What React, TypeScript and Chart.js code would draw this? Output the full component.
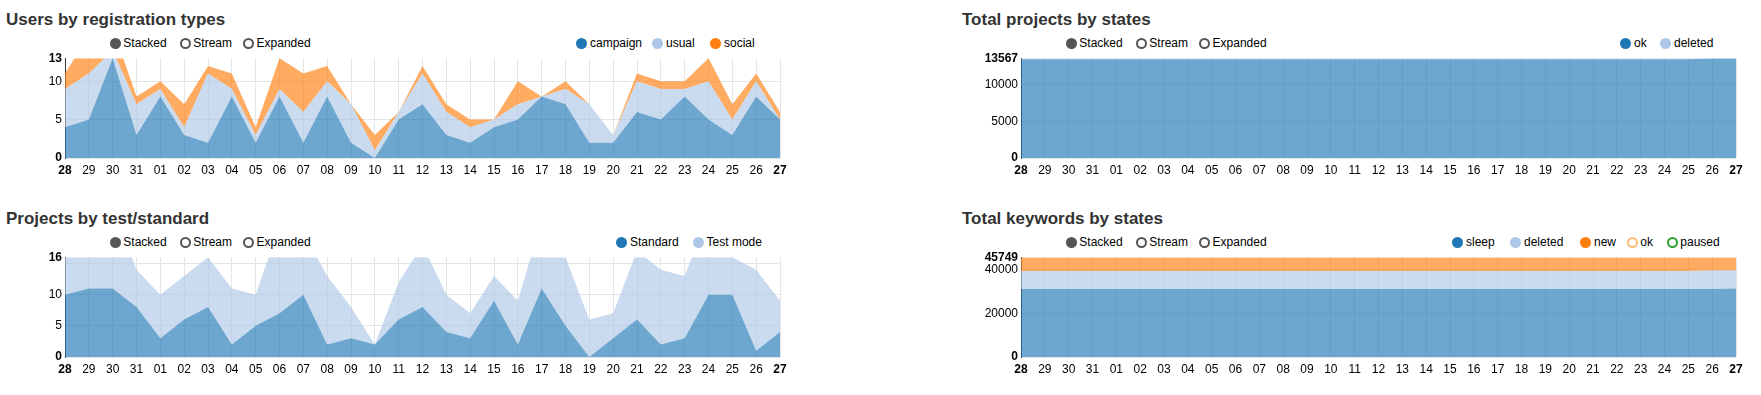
import React, { useEffect, useRef } from 'react';
import { Chart, registerables } from 'chart.js';

Chart.register(...registerables);

const FONT = 'Arial, "Liberation Sans", Helvetica, sans-serif';

// ---- categories ----
const days = ['28', '29', '30', '31', '01', '02', '03', '04', '05', '06', '07', '08', '09', '10', '11', '12', '13', '14', '15', '16', '17', '18', '19', '20', '21', '22', '23', '24', '25', '26', '27'];

// ---- Users by registration types ----
const campaign = [4, 5, 13, 3, 8, 3, 2, 8, 2, 8, 2, 8, 2, 0, 5, 7, 3, 2, 4, 5, 8, 7, 2, 2, 6, 5, 8, 5, 3, 8, 5];
const usual = [5, 6, 1, 4, 1, 1, 9, 1, 1, 1, 4, 2, 5, 1, 1, 4, 3, 2, 1, 2, 0, 2, 5, 1, 4, 4, 1, 5, 2, 2, 0];
const social = [2, 5, 3, 1, 1, 3, 1, 2, 1, 4, 5, 2, 0, 2, 0, 1, 1, 1, 0, 3, 0, 1, 0, 0, 1, 1, 1, 3, 2, 1, 1];
const usersTicks = [0, 5, 10, 13];

// ---- Projects by test/standard ----
const standard = [10, 11, 11, 8, 3, 6, 8, 2, 5, 7, 10, 2, 3, 2, 6, 8, 4, 3, 9, 2, 11, 5, 0, 3, 6, 2, 3, 10, 10, 1, 4];
const testMode = [8, 8, 13, 6, 7, 7, 8, 9, 5, 14, 10, 11, 5, 0, 6, 10, 6, 4, 4, 7, 11, 11, 6, 4, 11, 12, 10, 13, 6, 13, 5];
const testTicks = [0, 5, 10, 15, 16];
const testHiddenLabels = [15];

// ---- Total projects by states ----
const projOk = [13440, 13440, 13440, 13440, 13440, 13440, 13440, 13440, 13440, 13440, 13440, 13440, 13440, 13440, 13440, 13440, 13440, 13440, 13440, 13440, 13440, 13440, 13440, 13440, 13440, 13440, 13440, 13440, 13440, 13567, 13567];
const projDeleted = [127, 127, 127, 127, 127, 127, 127, 127, 127, 127, 127, 127, 127, 127, 127, 127, 127, 127, 127, 127, 127, 127, 127, 127, 127, 127, 127, 127, 127, 0, 0];
const projTicks = [0, 5000, 10000, 13567];

// ---- Total keywords by states ----
const kwSleep = [31200, 31200, 31200, 31200, 31200, 31200, 31200, 31200, 31200, 31200, 31200, 31200, 31200, 31200, 31200, 31200, 31200, 31200, 31200, 31200, 31200, 31200, 31200, 31200, 31200, 31200, 31200, 31200, 31200, 31200, 31450];
const kwDeleted = [8280, 8280, 8280, 8280, 8280, 8280, 8280, 8280, 8280, 8280, 8280, 8280, 8280, 8280, 8280, 8280, 8280, 8280, 8280, 8280, 8280, 8280, 8280, 8280, 8280, 8280, 8280, 8280, 8280, 8500, 8250];
const kwNew = [6269, 6269, 6269, 6269, 6269, 6269, 6269, 6269, 6269, 6269, 6269, 6269, 6269, 6269, 6269, 6269, 6269, 6269, 6269, 6269, 6269, 6269, 6269, 6269, 6269, 6269, 6269, 6269, 6269, 6049, 6049];
const kwTicks = [0, 20000, 40000, 45749];

// ---- colours ----
const BLUE = '#1f77b4';
const LIGHT_BLUE = '#aec7e8';
const ORANGE = '#ff7f0e';
const LIGHT_ORANGE = '#ffbb78';
const GREEN = '#2ca02c';
const CTRL = '#555555';
const AREA_ALPHA = 0.65;

type Series = { label: string; data: number[]; color: string };
type LegendItem = { text: string; cx: number; color: string; filled: boolean };

function rgba(hex: string, a: number) {
  const n = parseInt(hex.slice(1), 16);
  return `rgba(${(n >> 16) & 255},${(n >> 8) & 255},${n & 255},${a})`;
}

function makeConfig(series: Series[], ticks: number[], hidden: number[]): any {
  const max = ticks[ticks.length - 1];
  const last = days.length - 1;
  return {
    type: 'line',
    data: {
      labels: days,
      datasets: series.map((s, i) => ({
        label: s.label,
        data: s.data,
        fill: i === 0 ? 'origin' : '-1',
        backgroundColor: rgba(s.color, AREA_ALPHA),
        borderColor: 'rgba(0,0,0,0)',
        borderWidth: 0,
        pointRadius: 0,
        pointHoverRadius: 0,
        tension: 0,
      })),
    },
    options: {
      animation: false,
      responsive: false,
      maintainAspectRatio: false,
      events: [],
      layout: { padding: { top: 10, right: 20, left: 0, bottom: 0 } },
      plugins: {
        legend: { display: false },
        tooltip: { enabled: false },
        title: { display: false },
      },
      scales: {
        x: {
          type: 'category',
          offset: false,
          grid: { color: '#e5e5e5', drawTicks: false, offset: false },
          border: { display: false },
          ticks: {
            autoSkip: false,
            maxRotation: 0,
            minRotation: 0,
            padding: 5,
            color: '#000',
            font: (c: any) => ({ family: FONT, size: 12, weight: c.index === 0 || c.index === last ? 'bold' : 'normal' }),
          },
          afterFit: (s: any) => {
            s.height = 22;
          },
        },
        y: {
          type: 'linear',
          stacked: true,
          min: 0,
          max,
          grid: {
            drawTicks: false,
            color: (c: any) => (c.tick && c.tick.value === max ? 'rgba(0,0,0,0)' : '#e5e5e5'),
          },
          border: { display: true, color: 'rgba(0,0,0,0.75)', width: 1 },
          ticks: {
            autoSkip: false,
            padding: 3,
            color: '#000',
            font: (c: any) => ({
              family: FONT,
              size: 12,
              weight: c.tick && (c.tick.value === 0 || c.tick.value === max) ? 'bold' : 'normal',
            }),
            callback: (v: any) => (hidden.includes(Number(v)) ? '' : String(v)),
          },
          afterBuildTicks: (s: any) => {
            s.ticks = ticks.map((v) => ({ value: v }));
          },
          afterFit: (s: any) => {
            s.width = 65;
          },
        },
      },
    },
  };
}

function AreaChart({ series, ticks, hidden }: { series: Series[]; ticks: number[]; hidden: number[] }) {
  const ref = useRef<HTMLCanvasElement>(null);
  useEffect(() => {
    if (!ref.current) return;
    const chart = new Chart(ref.current, makeConfig(series, ticks, hidden));
    return () => chart.destroy();
  }, []);
  return (
    <canvas
      ref={ref}
      width={800}
      height={132}
      style={{ position: 'absolute', left: 0, top: 48, width: 800, height: 132 }}
    />
  );
}

function Dot({ item, cy }: { item: LegendItem; cy: number }) {
  return (
    <>
      <div
        style={{
          position: 'absolute',
          left: item.cx - 5.5,
          top: cy - 5.5,
          width: 11,
          height: 11,
          boxSizing: 'border-box',
          borderRadius: '50%',
          border: `2px solid ${item.color}`,
          background: item.filled ? item.color : '#fff',
        }}
      />
      <div
        style={{
          position: 'absolute',
          left: item.cx + 8.3,
          top: cy - 6.5,
          font: `12px ${FONT}`,
          lineHeight: '12px',
          color: '#000',
          whiteSpace: 'nowrap',
        }}
      >
        {item.text}
      </div>
    </>
  );
}

const controls: LegendItem[] = [
  { text: 'Stacked', cx: 115, color: CTRL, filled: true },
  { text: 'Stream', cx: 185, color: CTRL, filled: false },
  { text: 'Expanded', cx: 248.3, color: CTRL, filled: false },
];

function Panel({
  ox,
  oy,
  title,
  legend,
  series,
  ticks,
  hidden,
}: {
  ox: number;
  oy: number;
  title: string;
  legend: LegendItem[];
  series: Series[];
  ticks: number[];
  hidden: number[];
}) {
  return (
    <div style={{ position: 'absolute', left: ox, top: oy, width: 805, height: 196 }}>
      <div
        style={{
          position: 'absolute',
          left: 6,
          top: 10.6,
          font: `bold 17px ${FONT}`,
          lineHeight: '17px',
          color: '#333',
          whiteSpace: 'nowrap',
        }}
      >
        {title}
      </div>
      {controls.map((c) => (
        <Dot key={c.text} item={c} cy={43.3} />
      ))}
      {legend.map((c) => (
        <Dot key={c.text} item={{ ...c, cx: c.cx - ox }} cy={43.3} />
      ))}
      <AreaChart series={series} ticks={ticks} hidden={hidden} />
    </div>
  );
}

export default function App() {
  return (
    <div style={{ position: 'absolute', left: 0, top: 0, width: 1761, height: 395, background: '#fff', overflow: 'hidden' }}>
      <Panel
        ox={0}
        oy={0}
        title="Users by registration types"
        legend={[
          { text: 'campaign', cx: 581.7, color: BLUE, filled: true },
          { text: 'usual', cx: 657.7, color: LIGHT_BLUE, filled: true },
          { text: 'social', cx: 715.7, color: ORANGE, filled: true },
        ]}
        series={[
          { label: 'campaign', data: campaign, color: BLUE },
          { label: 'usual', data: usual, color: LIGHT_BLUE },
          { label: 'social', data: social, color: ORANGE },
        ]}
        ticks={usersTicks}
        hidden={[]}
      />
      <Panel
        ox={0}
        oy={199}
        title="Projects by test/standard"
        legend={[
          { text: 'Standard', cx: 621.7, color: BLUE, filled: true },
          { text: 'Test mode', cx: 698.3, color: LIGHT_BLUE, filled: true },
        ]}
        series={[
          { label: 'Standard', data: standard, color: BLUE },
          { label: 'Test mode', data: testMode, color: LIGHT_BLUE },
        ]}
        ticks={testTicks}
        hidden={testHiddenLabels}
      />
      <Panel
        ox={956}
        oy={0}
        title="Total projects by states"
        legend={[
          { text: 'ok', cx: 1625.7, color: BLUE, filled: true },
          { text: 'deleted', cx: 1665.7, color: LIGHT_BLUE, filled: true },
        ]}
        series={[
          { label: 'ok', data: projOk, color: BLUE },
          { label: 'deleted', data: projDeleted, color: LIGHT_BLUE },
        ]}
        ticks={projTicks}
        hidden={[]}
      />
      <Panel
        ox={956}
        oy={199}
        title="Total keywords by states"
        legend={[
          { text: 'sleep', cx: 1457.7, color: BLUE, filled: true },
          { text: 'deleted', cx: 1515.7, color: LIGHT_BLUE, filled: true },
          { text: 'new', cx: 1585.7, color: ORANGE, filled: true },
          { text: 'ok', cx: 1632, color: LIGHT_ORANGE, filled: false },
          { text: 'paused', cx: 1672, color: GREEN, filled: false },
        ]}
        series={[
          { label: 'sleep', data: kwSleep, color: BLUE },
          { label: 'deleted', data: kwDeleted, color: LIGHT_BLUE },
          { label: 'new', data: kwNew, color: ORANGE },
        ]}
        ticks={kwTicks}
        hidden={[]}
      />
    </div>
  );
}
